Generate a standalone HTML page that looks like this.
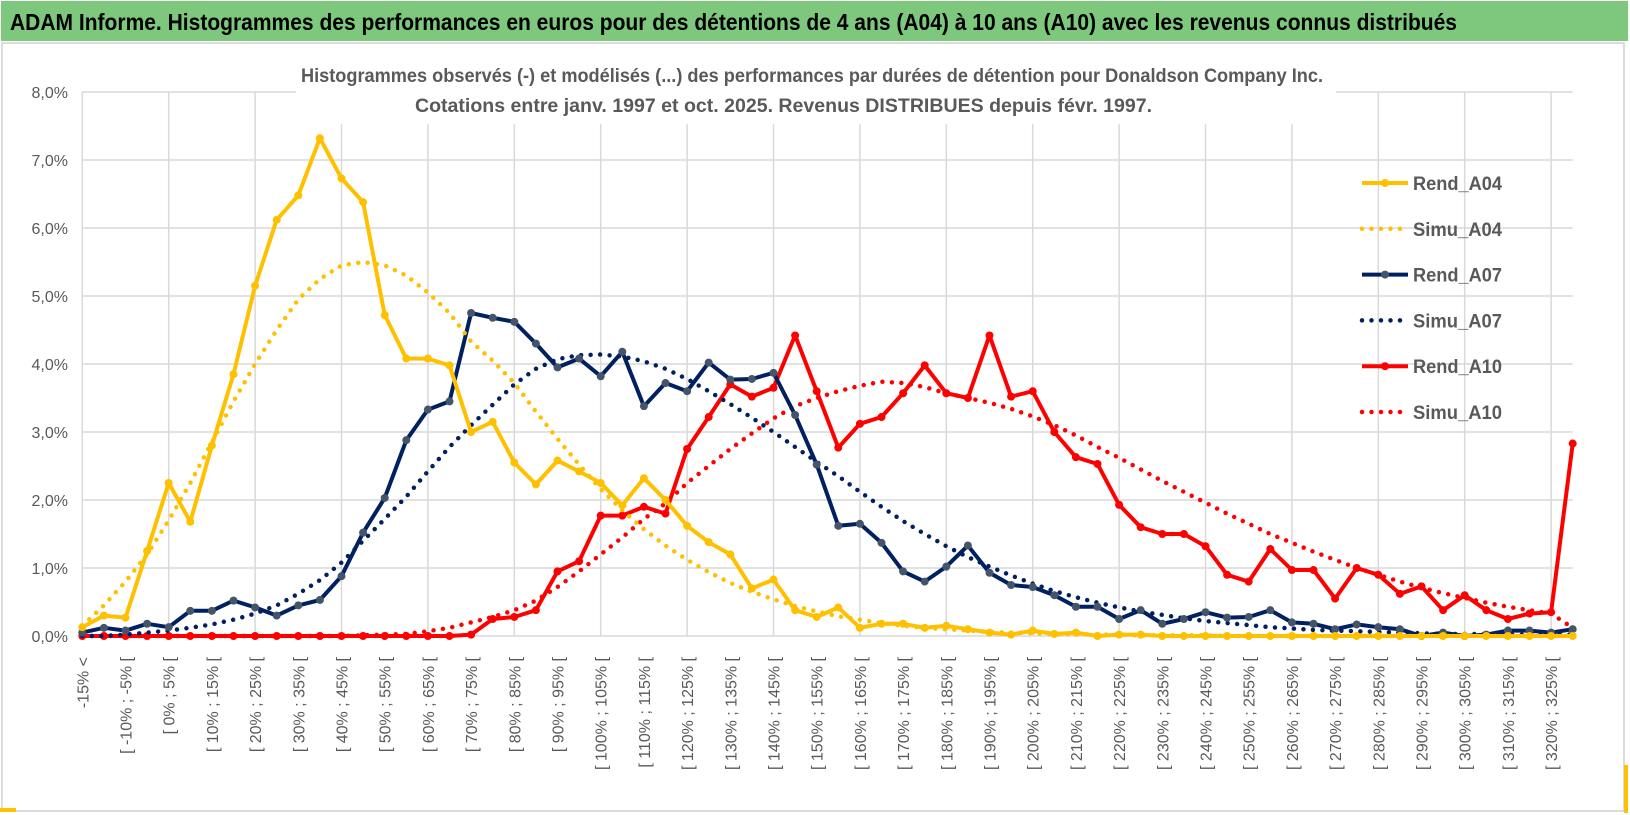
<!DOCTYPE html>
<html><head><meta charset="utf-8"><style>
html,body{margin:0;padding:0;background:#fff;}
svg{display:block;}
text{font-family:"Liberation Sans Narrow","Liberation Sans",sans-serif;}
</style></head><body>
<svg id="chart" width="1630" height="815" viewBox="0 0 1630 815" xmlns="http://www.w3.org/2000/svg">
<rect x="0" y="0" width="1630" height="815" fill="#fff"/>
<rect x="1" y="1" width="1627" height="40" fill="#7dc87d"/>
<text x="10" y="30" font-size="23" font-weight="bold" fill="#000" textLength="1447" lengthAdjust="spacingAndGlyphs">ADAM Informe. Histogrammes des performances en euros pour des détentions de 4 ans (A04) à 10 ans (A10) avec les revenus connus distribués</text>
<rect x="2" y="43" width="1622" height="768" fill="none" stroke="#d0d0d0" stroke-width="1.5"/>
<rect x="0" y="808" width="16" height="4" fill="#ffc000"/>
<rect x="1624" y="765" width="4" height="48" fill="#ffc000"/>
<g id="grid"></g>
<g id="axes"></g>
<rect x="296" y="60" width="1040" height="64" fill="#fff"/>
<text x="301" y="82" font-size="19" font-weight="bold" fill="#595959" textLength="1022" lengthAdjust="spacingAndGlyphs">Histogrammes observés (-) et modélisés (...) des performances par durées de détention pour Donaldson Company Inc.</text>
<text x="415" y="112" font-size="19" font-weight="bold" fill="#595959" textLength="737" lengthAdjust="spacingAndGlyphs">Cotations entre janv. 1997 et oct. 2025.  Revenus DISTRIBUES depuis févr. 1997.</text>
<g id="series"></g>
<g id="legend"></g>
</svg>
<script>
const categories = [];
categories.push("-15% <");
for (let k = 1; k < 70; k++) { const lo = 5*(k-4); categories.push("[ " + lo + "% ; " + (lo+5) + "% ["); }
const yTicks = [0,1,2,3,4,5,6,7,8];
const yTickLabels = ["0,0%","1,0%","2,0%","3,0%","4,0%","5,0%","6,0%","7,0%","8,0%"];
const rendA04 = [0.13,0.3,0.27,1.25,2.25,1.68,2.8,3.85,5.15,6.12,6.48,7.32,6.73,6.38,4.72,4.08,4.08,3.98,3.0,3.15,2.55,2.23,2.58,2.42,2.25,1.92,2.32,2.0,1.62,1.38,1.2,0.7,0.83,0.38,0.28,0.42,0.12,0.18,0.18,0.12,0.15,0.1,0.05,0.02,0.08,0.03,0.05,0.0,0.02,0.02,0,0,0,0,0,0,0,0,0,0,0,0,0,0,0,0,0,0,0,0];
const simuA04 = [0.15,0.45,0.8,1.2,1.7,2.25,2.85,3.45,4.0,4.5,4.95,5.25,5.45,5.5,5.45,5.3,5.05,4.75,4.33,4.05,3.72,3.3,2.9,2.52,2.16,1.85,1.57,1.33,1.12,0.94,0.78,0.65,0.54,0.44,0.36,0.29,0.24,0.19,0.15,0.12,0.1,0.08,0.06,0.05,0.04,0.03,0.03,0.02,0.02,0.01,0.01,0.01,0.01,0,0,0,0,0,0,0,0,0,0,0,0,0,0,0,0,0];
const rendA07 = [0.05,0.12,0.08,0.18,0.13,0.37,0.37,0.52,0.42,0.3,0.45,0.53,0.88,1.52,2.03,2.88,3.33,3.45,4.75,4.68,4.62,4.3,3.95,4.08,3.82,4.18,3.38,3.72,3.6,4.02,3.77,3.78,3.87,3.25,2.52,1.62,1.65,1.37,0.95,0.8,1.02,1.33,0.93,0.75,0.72,0.6,0.43,0.43,0.25,0.38,0.18,0.25,0.35,0.27,0.28,0.38,0.2,0.18,0.1,0.17,0.13,0.1,0.0,0.05,0.0,0.02,0.08,0.08,0.05,0.1];
const simuA07 = [0,0,0.02,0.05,0.08,0.12,0.17,0.24,0.33,0.45,0.62,0.82,1.08,1.4,1.72,2.05,2.42,2.78,3.1,3.4,3.7,3.93,4.07,4.13,4.14,4.11,4.04,3.93,3.78,3.6,3.41,3.21,3.0,2.78,2.56,2.35,2.12,1.9,1.69,1.5,1.32,1.16,1.02,0.89,0.77,0.66,0.57,0.49,0.42,0.36,0.31,0.26,0.22,0.19,0.16,0.13,0.11,0.09,0.08,0.07,0.06,0.05,0.04,0.03,0.03,0.03,0.02,0.02,0.02,0.02];
const rendA10 = [0,0,0,0,0,0,0,0,0,0,0,0,0,0,0,0,0,0,0.02,0.25,0.28,0.38,0.95,1.1,1.77,1.77,1.9,1.8,2.75,3.22,3.7,3.52,3.65,4.42,3.6,2.77,3.12,3.22,3.57,3.98,3.57,3.5,4.42,3.52,3.6,3.0,2.63,2.53,1.93,1.6,1.5,1.5,1.32,0.9,0.8,1.28,0.97,0.97,0.55,1.0,0.9,0.62,0.73,0.38,0.6,0.38,0.25,0.33,0.35,2.83];
const simuA10 = [0,0,0,0,0,0,0,0,0,0,0,0,0,0.01,0.02,0.03,0.07,0.12,0.2,0.28,0.38,0.52,0.72,0.95,1.2,1.45,1.72,1.95,2.25,2.5,2.75,2.98,3.2,3.38,3.5,3.6,3.68,3.74,3.72,3.66,3.57,3.5,3.43,3.34,3.23,3.1,2.95,2.78,2.62,2.45,2.28,2.12,1.96,1.8,1.65,1.5,1.37,1.24,1.12,1.0,0.9,0.8,0.71,0.63,0.56,0.49,0.43,0.38,0.33,0.12];
const seriesNames = ["Rend_A04","Simu_A04","Rend_A07","Simu_A07","Rend_A10","Simu_A10"];

const NS = "http://www.w3.org/2000/svg";
const X0 = 82.3, DX = 21.6, Y0 = 636, DY = 68;
function xPos(i){ return X0 + i*DX; }
function yPos(v){ return Y0 - v*DY; }
function mk(tag, attrs, parent){ const e = document.createElementNS(NS, tag); for (const k in attrs) e.setAttribute(k, attrs[k]); parent.appendChild(e); return e; }

const grid = document.getElementById("grid");
const axes = document.getElementById("axes");
yTicks.forEach((t, j) => {
  const l = mk("line", {x1: X0, x2: xPos(categories.length-1), y1: yPos(t), y2: yPos(t), stroke: "#d9d9d9", "stroke-width": 1.5}, grid);
  
  
  const tx = mk("text", {x: 68, y: yPos(t)+6, "text-anchor": "end", "font-size": 16, fill: "#595959"}, axes);
  tx.textContent = yTickLabels[j];
  
  
});
for (let i = 0; i < categories.length; i += 4) {
  const l = mk("line", {x1: xPos(i), x2: xPos(i), y1: yPos(8), y2: Y0, stroke: "#d9d9d9", "stroke-width": 1.5}, grid);
  
  
}
for (let i = 0; i < categories.length; i += 2) {
  const x = xPos(i) + 6, y = 657;
  const tx = mk("text", {x: x, y: y, "text-anchor": "end", "font-size": 16, fill: "#595959", transform: "rotate(-90 " + x + " " + y + ")"}, axes);
  tx.textContent = categories[i];
  
  
}

const S = document.getElementById("series");
function drawSeries(vals, color, dotted, markerColor, name){
  const pts = vals.map((v,i) => xPos(i).toFixed(1) + "," + yPos(v).toFixed(1)).join(" ");
  const g = mk("g", {}, S);
  
  
  if (dotted) {
    mk("polyline", {points: pts, fill: "none", stroke: color, "stroke-width": 4.5, "stroke-linecap": "round", "stroke-dasharray": "0 9.5"}, g);
  } else {
    mk("polyline", {points: pts, fill: "none", stroke: color, "stroke-width": 4, "stroke-linejoin": "round"}, g);
    vals.forEach((v,i) => {
      const c = mk("circle", {cx: xPos(i), cy: yPos(v), r: 4, fill: markerColor}, g);
      
      
    });
  }
}
drawSeries(simuA10, "#ff0000", true, null, "simu-a10-line");
drawSeries(rendA10, "#ff0000", false, "#ff0000", "rend-a10-line");
drawSeries(simuA07, "#002060", true, null, "simu-a07-line");
drawSeries(rendA07, "#002060", false, "#44546a", "rend-a07-line");
drawSeries(simuA04, "#ffc000", true, null, "simu-a04-line");
drawSeries(rendA04, "#ffc000", false, "#ffc000", "rend-a04-line");

const L = document.getElementById("legend");
const legColors = ["#ffc000","#ffc000","#002060","#002060","#ff0000","#ff0000"];
seriesNames.forEach((n, i) => {
  const y = 183 + i*45.8;
  const g = mk("g", {}, L);
  
  
  const dotted = n.startsWith("Simu");
  if (dotted) mk("line", {x1: 1362, x2: 1408, y1: y, y2: y, stroke: legColors[i], "stroke-width": 4.5, "stroke-linecap": "round", "stroke-dasharray": "0 9.5"}, g);
  else { mk("line", {x1: 1362, x2: 1408, y1: y, y2: y, stroke: legColors[i], "stroke-width": 4}, g);
    mk("circle", {cx: 1385, cy: y, r: 4, fill: i==2 ? "#44546a" : legColors[i]}, g); }
  const t = mk("text", {x: 1413, y: y+7, "font-size": 19, "font-weight": "bold", fill: "#595959", textLength: 89, lengthAdjust: "spacingAndGlyphs"}, g);
  t.textContent = n;
});
</script>
</body></html>
